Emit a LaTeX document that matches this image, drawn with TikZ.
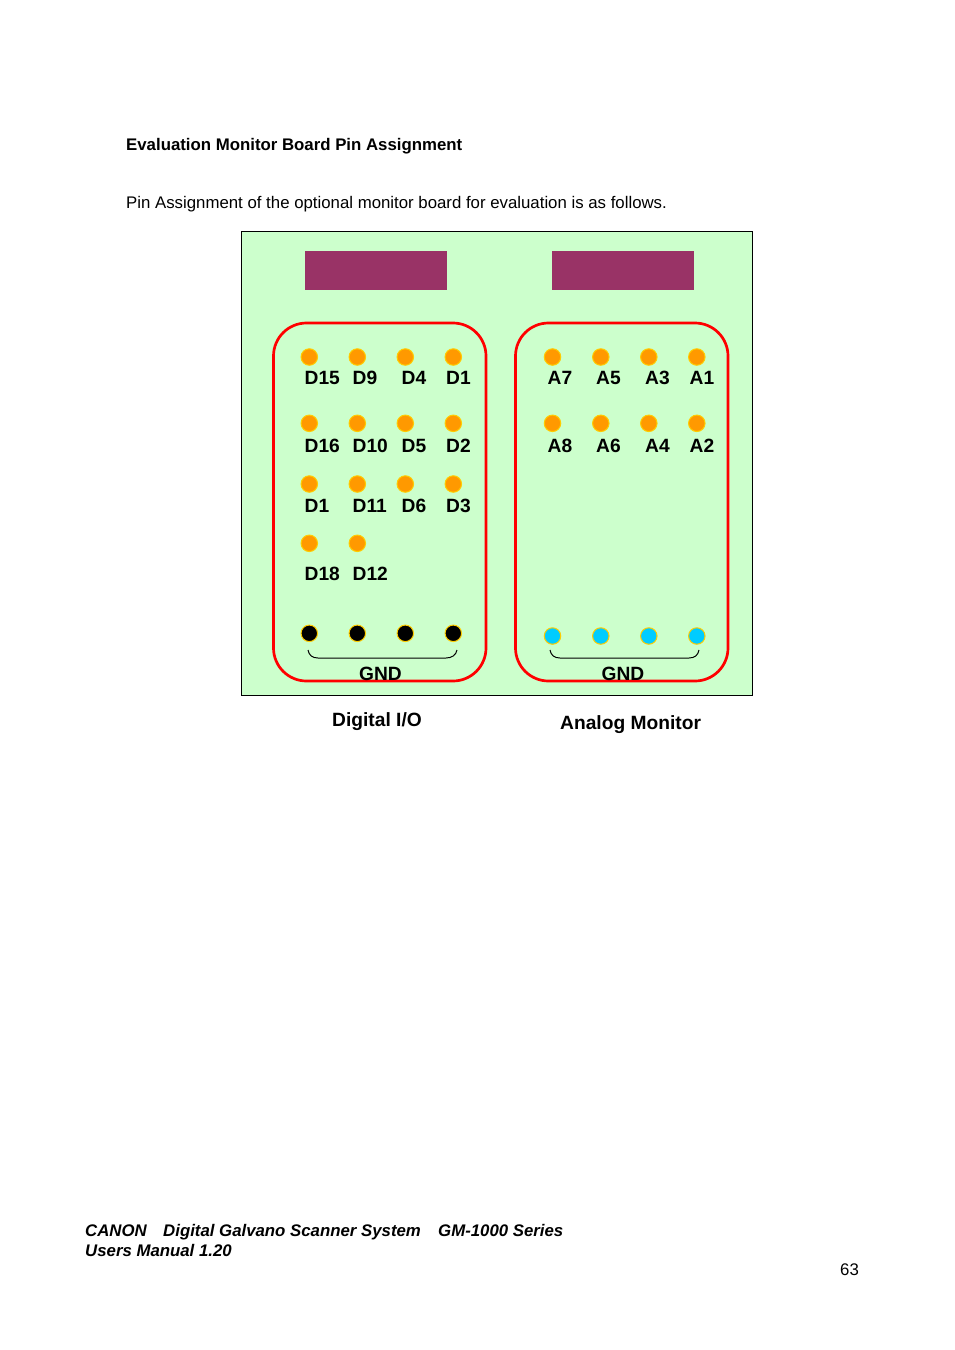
\documentclass[tikz,border=0pt]{standalone}
\usepackage{fontspec}
\setmainfont{Liberation Sans}
\usetikzlibrary{positioning}
\tikzset{
	board/.style={draw=black,line width=1pt,fill=boardgreen},
	socket/.style={fill=socketpurple},
	group/.style={draw=red,line width=2.7pt,rounded corners=33pt},
	pin/.style={circle,draw=pinrim,line width=1pt,fill=#1,minimum size=16.5pt,inner sep=0pt},
	pinlabel/.style={anchor=base west,inner sep=0pt,font=\fontsize{19.2}{23}\selectfont\bfseries},
	bodytext/.style={anchor=base west,inner sep=0pt,font=\fontsize{16.8}{20}\selectfont},
	footer/.style={anchor=base west,inner sep=0pt,font=\fontsize{16.8}{20}\selectfont\bfseries\itshape}
}
\definecolor{boardgreen}{HTML}{CCFFCC}
\definecolor{socketpurple}{HTML}{993366}
\definecolor{pinrim}{HTML}{FFCC00}
\definecolor{pinorange}{HTML}{FF9900}
\definecolor{pincyan}{HTML}{00CCFF}
\begin{document}
\begin{tikzpicture}[x=1pt,y=-1pt]
	\useasboundingbox (0,0) rectangle (954,1350);
	\fill[white] (0,0) rectangle (954,1350);
	\node[bodytext,font=\fontsize{16.8}{20}\selectfont\bfseries] (title) at (126,150) {Evaluation Monitor Board Pin Assignment};
	\node[bodytext] (intro) at (126,208) {Pin Assignment of the optional monitor board for evaluation is as follows.};
	\draw[board] (241.5,231.5) rectangle (752.5,695.5);
	\fill[socket] (305,251) rectangle (447,290);
	\fill[socket] (552,251) rectangle (694,290);
	\draw[group] (273.5,323) rectangle (486,681);
	\draw[group] (515.5,323) rectangle (728,681);
	% digital side
	\foreach \x/\px/\tx/\ta/\tb/\tc/\td in {1/309.3/304.5/D15/D16/D1/D18,2/357.3/352.5/D9/D10/D11/D12} {
		\node[pin=pinorange] (da\x) at (\px,357) {};
		\node[pin=pinorange] (db\x) at (\px,423.3) {};
		\node[pin=pinorange] (dc\x) at (\px,484) {};
		\node[pin=pinorange] (dd\x) at (\px,543.3) {};
		\node[pinlabel] (lda\x) at (\tx,384) {\ta};
		\node[pinlabel] (ldb\x) at (\tx,452) {\tb};
		\node[pinlabel] (ldc\x) at (\tx,512) {\tc};
		\node[pinlabel] (ldd\x) at (\tx,580) {\td};
	}
	\foreach \x/\px/\tx/\ta/\tb/\tc in {3/405.3/401.5/D4/D5/D6,4/453.3/446/D1/D2/D3} {
		\node[pin=pinorange] (da\x) at (\px,357) {};
		\node[pin=pinorange] (db\x) at (\px,423.3) {};
		\node[pin=pinorange] (dc\x) at (\px,484) {};
		\node[pinlabel] (lda\x) at (\tx,384) {\ta};
		\node[pinlabel] (ldb\x) at (\tx,452) {\tb};
		\node[pinlabel] (ldc\x) at (\tx,512) {\tc};
	}
	\foreach \x/\px in {1/309.3,2/357.3,3/405.3,4/453.3} {
		\node[pin=black] (dg\x) at (\px,633.3) {};
	}
	\draw[line width=1pt] (308,650) .. controls (309,655) and (312,658) .. (318,658) -- (446,658) .. controls (452,658) and (456,655) .. (457,650);
	\node[pinlabel,anchor=base] (dgnd) at (380.5,680) {GND};
	% analog side
	\foreach \x/\px/\tx/\ta/\tb in {1/552.5/547.5/A7/A8,2/600.8/596/A5/A6,3/648.8/645/A3/A4,4/696.8/689.5/A1/A2} {
		\node[pin=pinorange] (aa\x) at (\px,357) {};
		\node[pin=pinorange] (ab\x) at (\px,423.3) {};
		\node[pin=pincyan] (ag\x) at (\px,636) {};
		\node[pinlabel] (laa\x) at (\tx,384) {\ta};
		\node[pinlabel] (lab\x) at (\tx,452) {\tb};
	}
	\draw[line width=1pt] (550,650) .. controls (551,655) and (554,658) .. (560,658) -- (689,658) .. controls (695,658) and (698,655) .. (699,650);
	\node[pinlabel,anchor=base] (agnd) at (623,680) {GND};
	\node[pinlabel] (digital) at (332,726) {Digital I/O};
	\node[pinlabel] (analog) at (560,729) {Analog Monitor};
	\node[footer] (canon) at (85,1236) {CANON};
	\node[footer] (system) at (163,1236) {Digital Galvano Scanner System};
	\node[footer] (series) at (438,1236) {GM-1000 Series};
	\node[footer] (manual) at (85,1256) {Users Manual 1.20};
	\node[bodytext] (page) at (840,1275) {63};
\end{tikzpicture}
\end{document}
